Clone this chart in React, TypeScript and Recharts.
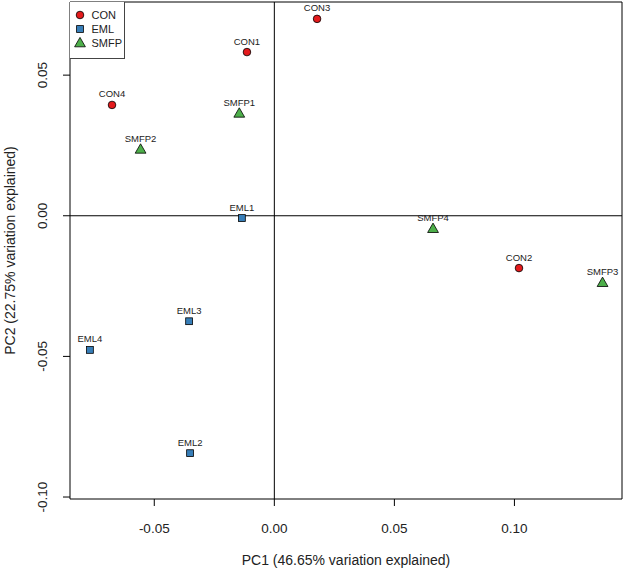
import React from 'react'
import { ScatterChart, Scatter, XAxis, YAxis, ReferenceLine, ReferenceArea } from 'recharts'

// sample scores on the first two principal components
const conNames = ['CON1', 'CON2', 'CON3', 'CON4']
const conPC1 = [-0.0114, 0.1019, 0.0178, -0.0676]
const conPC2 = [0.0582, -0.0186, 0.07, 0.0394]

const emlNames = ['EML1', 'EML2', 'EML3', 'EML4']
const emlPC1 = [-0.0135, -0.0351, -0.0355, -0.0768]
const emlPC2 = [-0.0008, -0.0844, -0.0375, -0.0477]

const smfpNames = ['SMFP1', 'SMFP2', 'SMFP3', 'SMFP4']
const smfpPC1 = [-0.0146, -0.0557, 0.1367, 0.0661]
const smfpPC2 = [0.0364, 0.0236, -0.0238, -0.0046]

const xTicks = [-0.05, 0, 0.05, 0.1]
const yTicks = [-0.1, -0.05, 0, 0.05]
const xDomain: [number, number] = [-0.0851, 0.1448]
const yDomain: [number, number] = [-0.1007, 0.076]

const FONT = '"Liberation Sans", Arial, Helvetica, sans-serif'

type Kind = 'circle' | 'square' | 'triangle'

const groups: { label: string; kind: Kind; color: string; names: string[]; pc1: number[]; pc2: number[] }[] = [
  { label: 'CON', kind: 'circle', color: '#e41a1c', names: conNames, pc1: conPC1, pc2: conPC2 },
  { label: 'EML', kind: 'square', color: '#377eb8', names: emlNames, pc1: emlPC1, pc2: emlPC2 },
  { label: 'SMFP', kind: 'triangle', color: '#4daf4a', names: smfpNames, pc1: smfpPC1, pc2: smfpPC2 },
]

function toPoints(names: string[], pc1: number[], pc2: number[]) {
  return names.map((name, i) => ({ name, pc1: pc1[i], pc2: pc2[i] }))
}

function Glyph({ kind, cx, cy, color }: { kind: Kind; cx: number; cy: number; color: string }) {
  if (kind === 'circle') return <circle cx={cx} cy={cy} r={3.8} fill={color} stroke="#000" strokeWidth={0.8} />
  if (kind === 'square')
    return <rect x={cx - 3.4} y={cy - 3.4} width={6.8} height={6.8} fill={color} stroke="#000" strokeWidth={0.8} />
  return (
    <polygon
      points={`${cx},${cy - 5.6} ${cx - 5.4},${cy + 3.8} ${cx + 5.4},${cy + 3.8}`}
      fill={color}
      stroke="#000"
      strokeWidth={0.8}
    />
  )
}

function makeShape(kind: Kind, color: string) {
  return (props: any) => {
    const { cx, cy, payload } = props
    return (
      <g>
        <Glyph kind={kind} cx={cx} cy={cy} color={color} />
        <text x={cx} y={cy - 7.5} textAnchor="middle" fontSize={9.5} fill="#222" fontFamily={FONT}>
          {payload.name}
        </text>
      </g>
    )
  }
}

function XTick(props: any) {
  const { x, y, payload } = props
  return (
    <text x={x} y={y + 24.7} textAnchor="middle" fontSize={13.5} fill="#222" fontFamily={FONT}>
      {payload.value.toFixed(2)}
    </text>
  )
}

function YTick(props: any) {
  const { x, y, payload } = props
  const tx = x - 14
  return (
    <text
      x={tx}
      y={y}
      transform={`rotate(-90, ${tx}, ${y})`}
      textAnchor="middle"
      fontSize={13.5}
      fill="#222"
      fontFamily={FONT}
    >
      {payload.value.toFixed(2)}
    </text>
  )
}

function YTitle(props: any) {
  const vb = props.viewBox || { y: 2, height: 497 }
  const cy = vb.y + vb.height / 2
  return (
    <text x={15} y={cy} transform={`rotate(-90, 15, ${cy})`} textAnchor="middle" fontSize={14} fill="#222" fontFamily={FONT}>
      PC2 (22.75% variation explained)
    </text>
  )
}

function XTitle(props: any) {
  const vb = props.viewBox || { x: 70, width: 552 }
  const cx = vb.x + vb.width / 2
  return (
    <text x={cx} y={565} textAnchor="middle" fontSize={14} fill="#222" fontFamily={FONT}>
      PC1 (46.65% variation explained)
    </text>
  )
}

export default function App() {
  return (
    <div style={{ position: 'absolute', left: 0, top: 0, width: 624, height: 573, background: '#fff' }}>
      <ScatterChart width={624} height={573} margin={{ top: 2, right: 2, bottom: 0, left: 0 }}>
        <XAxis
          type="number"
          dataKey="pc1"
          domain={xDomain}
          allowDataOverflow
          ticks={xTicks}
          height={74}
          axisLine={false}
          tickSize={7}
          tickLine={{ stroke: '#000' }}
          tick={<XTick />}
          label={XTitle}
        />
        <YAxis
          type="number"
          dataKey="pc2"
          domain={yDomain}
          allowDataOverflow
          ticks={yTicks}
          width={70}
          axisLine={false}
          tickSize={7}
          tickLine={{ stroke: '#000' }}
          tick={<YTick />}
          label={YTitle}
        />
        <ReferenceArea
          x1={xDomain[0]}
          x2={xDomain[1]}
          y1={yDomain[0]}
          y2={yDomain[1]}
          fill="none"
          fillOpacity={0}
          stroke="#000"
          strokeWidth={1}
          strokeOpacity={1}
        />
        <ReferenceLine x={0} stroke="#000" strokeWidth={1} />
        <ReferenceLine y={0} stroke="#000" strokeWidth={1} />
        {groups.map((g) => (
          <Scatter
            key={g.label}
            name={g.label}
            data={toPoints(g.names, g.pc1, g.pc2)}
            shape={makeShape(g.kind, g.color)}
            isAnimationActive={false}
          />
        ))}
      </ScatterChart>
      <div
        style={{
          position: 'absolute',
          left: 70,
          top: 2,
          width: 54,
          height: 56,
          border: '1px solid #444',
          borderTop: 'none',
          borderLeft: 'none',
          background: '#fff',
          fontFamily: FONT,
          fontSize: 11,
          color: '#222',
        }}
      >
        {groups.map((g, i) => (
          <div key={g.label} style={{ position: 'absolute', left: 0, top: 6 + i * 14, height: 14, display: 'flex', alignItems: 'center' }}>
            <svg width={20} height={14} style={{ display: 'block' }}>
              <Glyph kind={g.kind} cx={10} cy={7} color={g.color} />
            </svg>
            <span style={{ marginLeft: 1.5, lineHeight: '14px' }}>{g.label}</span>
          </div>
        ))}
      </div>
    </div>
  )
}
